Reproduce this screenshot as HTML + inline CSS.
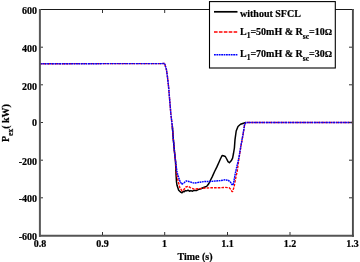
<!DOCTYPE html>
<html><head><meta charset="utf-8">
<style>
html,body{margin:0;padding:0;background:#fff;width:360px;height:262px;overflow:hidden}
svg{display:block;will-change:transform}
text{font-family:"Liberation Serif",serif;font-weight:bold;font-size:10px;fill:#000;stroke:#000;stroke-width:0.2px}
</style></head><body>
<svg width="360" height="262" viewBox="0 0 360 262">
<rect x="0" y="0" width="360" height="262" fill="#fff"/>
<!-- data -->
<g fill="none" stroke-linejoin="round">
<polyline stroke="#000" stroke-width="1.5" points="172.3,126 173.4,140 174.5,152 175.5,161 176,173.6 176.5,182 177,185.3 178.7,190.3 180.5,192 182,192.8 183,191.6 184.2,191.8 185.4,190.6 186.4,190.9 188,190.2 189.5,191.2 190.9,190.6 192.5,191.2 194,190.4 196.4,190.6 198.5,189.4 200.9,188.8 203,187.8 205,187 206.5,186.4 207.2,185.8 208.9,183.5 210.6,180 212.3,176.6 214.6,171.5 216.9,166.9 219.2,161.7 220.4,159 222.1,155.5 223.4,155.8 225.3,156.5 226.7,159 228,161.7 229.4,162.7 231.2,160.8 232.6,158.1 233.5,153.5 234.4,148 235,139.6 236.2,131 238,126.5 240.5,124.3 243.5,123.2 245.9,122.5"/>
<polyline stroke="#f00" stroke-width="1.4" stroke-dasharray="2.6 1.1" points="40,63.7 162,63.6 164.6,63.4 166.5,69.9 167.6,77.9 168.5,86 169.6,99 170.9,114.4 172.3,126 173.4,140 174.5,152 175.5,161 176.4,173.1 178.1,180.9 179.8,187.6 182,190.9 183.7,189.8 185.9,187 188.1,186.2 190.3,187.6 194.2,189.2 198.7,188.7 205.3,188.1 210,187.8 218.5,187.8 225,187.4 229.2,187.8 230.8,189.4 231.9,191.5 232.6,191.5 234,187.2 235.6,178.7 237.2,171.2 238.9,159 240.9,146.5 242.9,135.5 244.6,125 245.9,122.5 352,122.5"/>
<polyline stroke="#00f" stroke-width="1.45" stroke-dasharray="1.8 0.6" points="40,63.7 162,63.6 164.6,63.4 166.5,69.9 167.6,77.9 168.5,86 169.6,99 170.9,114.4 172.3,126 173.4,140 174.5,152 175.5,161 177,172 178.7,177.6 180.3,182 182,184.2 184.2,182.6 186.4,180.9 189.8,181.8 194.2,183.1 199.8,182.2 205.3,181.4 210,181.5 215.3,181 220.7,180.6 225,179.8 228.2,180.3 230.3,181.9 231.9,184.6 233,185.1 234,180.8 235.1,174.4 236.5,168 238.9,157.7 240.9,145.8 242.9,134.9 244.6,124.5 245.9,122.5 352,122.5"/>
</g>
<!-- axes box -->
<g fill="none">
<path d="M39,9.5 H353.5" stroke="#1a1a1a" stroke-width="1.1"/>
<path d="M39.9,9 V236.8" stroke="#585858" stroke-width="2"/>
<path d="M39,235.8 H354" stroke="#555" stroke-width="2"/>
<path d="M352.9,9 V236.8" stroke="#4a4a4a" stroke-width="1.9"/>
</g>
<!-- ticks -->
<g stroke="#333" stroke-width="1" fill="none">
<path d="M102.5,235 v-3 M164.7,235 v-3 M227.5,235 v-3 M290,235 v-3"/>
<path d="M102.5,10 v3 M164.7,10 v3 M227.5,10 v3 M290,10 v3"/>
<path d="M40.8,47.2 h2.2 M40.8,84.8 h2.2 M40.8,122.5 h2.2 M40.8,160.2 h2.2 M40.8,197.8 h2.2"/>
<path d="M352,47.2 h-3 M352,84.8 h-3 M352,122.5 h-3 M352,160.2 h-3 M352,197.8 h-3"/>
</g>
<!-- y tick labels -->
<g text-anchor="end">
<text x="37" y="13.8">600</text>
<text x="37" y="51.8">400</text>
<text x="37" y="89.5">200</text>
<text x="37" y="126.2">0</text>
<text x="37" y="165.3">-200</text>
<text x="37" y="202.3">-400</text>
<text x="37" y="239.7">-600</text>
</g>
<!-- x tick labels -->
<g text-anchor="middle">
<text x="40" y="246.5">0.8</text>
<text x="102.5" y="246.5">0.9</text>
<text x="164.5" y="246.5">1</text>
<text x="227.5" y="246.5">1.1</text>
<text x="290" y="246.5">1.2</text>
<text x="352.5" y="246.5">1.3</text>
</g>
<text x="195" y="259.5" text-anchor="middle">Time (s)</text>
<text transform="translate(8.6,142) rotate(-90)">P<tspan font-size="7.5" dy="4">ex</tspan><tspan dy="-4">( kW)</tspan></text>
<!-- legend -->
<rect x="209.5" y="1.6" width="125.8" height="66.4" fill="#fff" stroke="#000" stroke-width="1.1"/>
<path d="M214,11.8 H237.5" stroke="#000" stroke-width="1.7"/>
<path d="M214,32.1 H237.3" stroke="#f00" stroke-width="1.5" stroke-dasharray="3.6 1.3"/>
<path d="M214,54.8 H237.5" stroke="#00f" stroke-width="1.45" stroke-dasharray="1.8 0.6"/>
<text x="240" y="16.6">without SFCL</text>
<text x="240" y="34.6">L<tspan font-size="7.5" dy="3">1</tspan><tspan dy="-3">=50mH &amp; R</tspan><tspan font-size="7.5" dy="4">sc</tspan><tspan dy="-4">=10<tspan font-size="9.2">Ω</tspan></tspan></text>
<text x="240" y="57.1">L<tspan font-size="7.5" dy="3">1</tspan><tspan dy="-3">=70mH &amp; R</tspan><tspan font-size="7.5" dy="4">sc</tspan><tspan dy="-4">=30<tspan font-size="9.2">Ω</tspan></tspan></text>
</svg>
</body></html>
